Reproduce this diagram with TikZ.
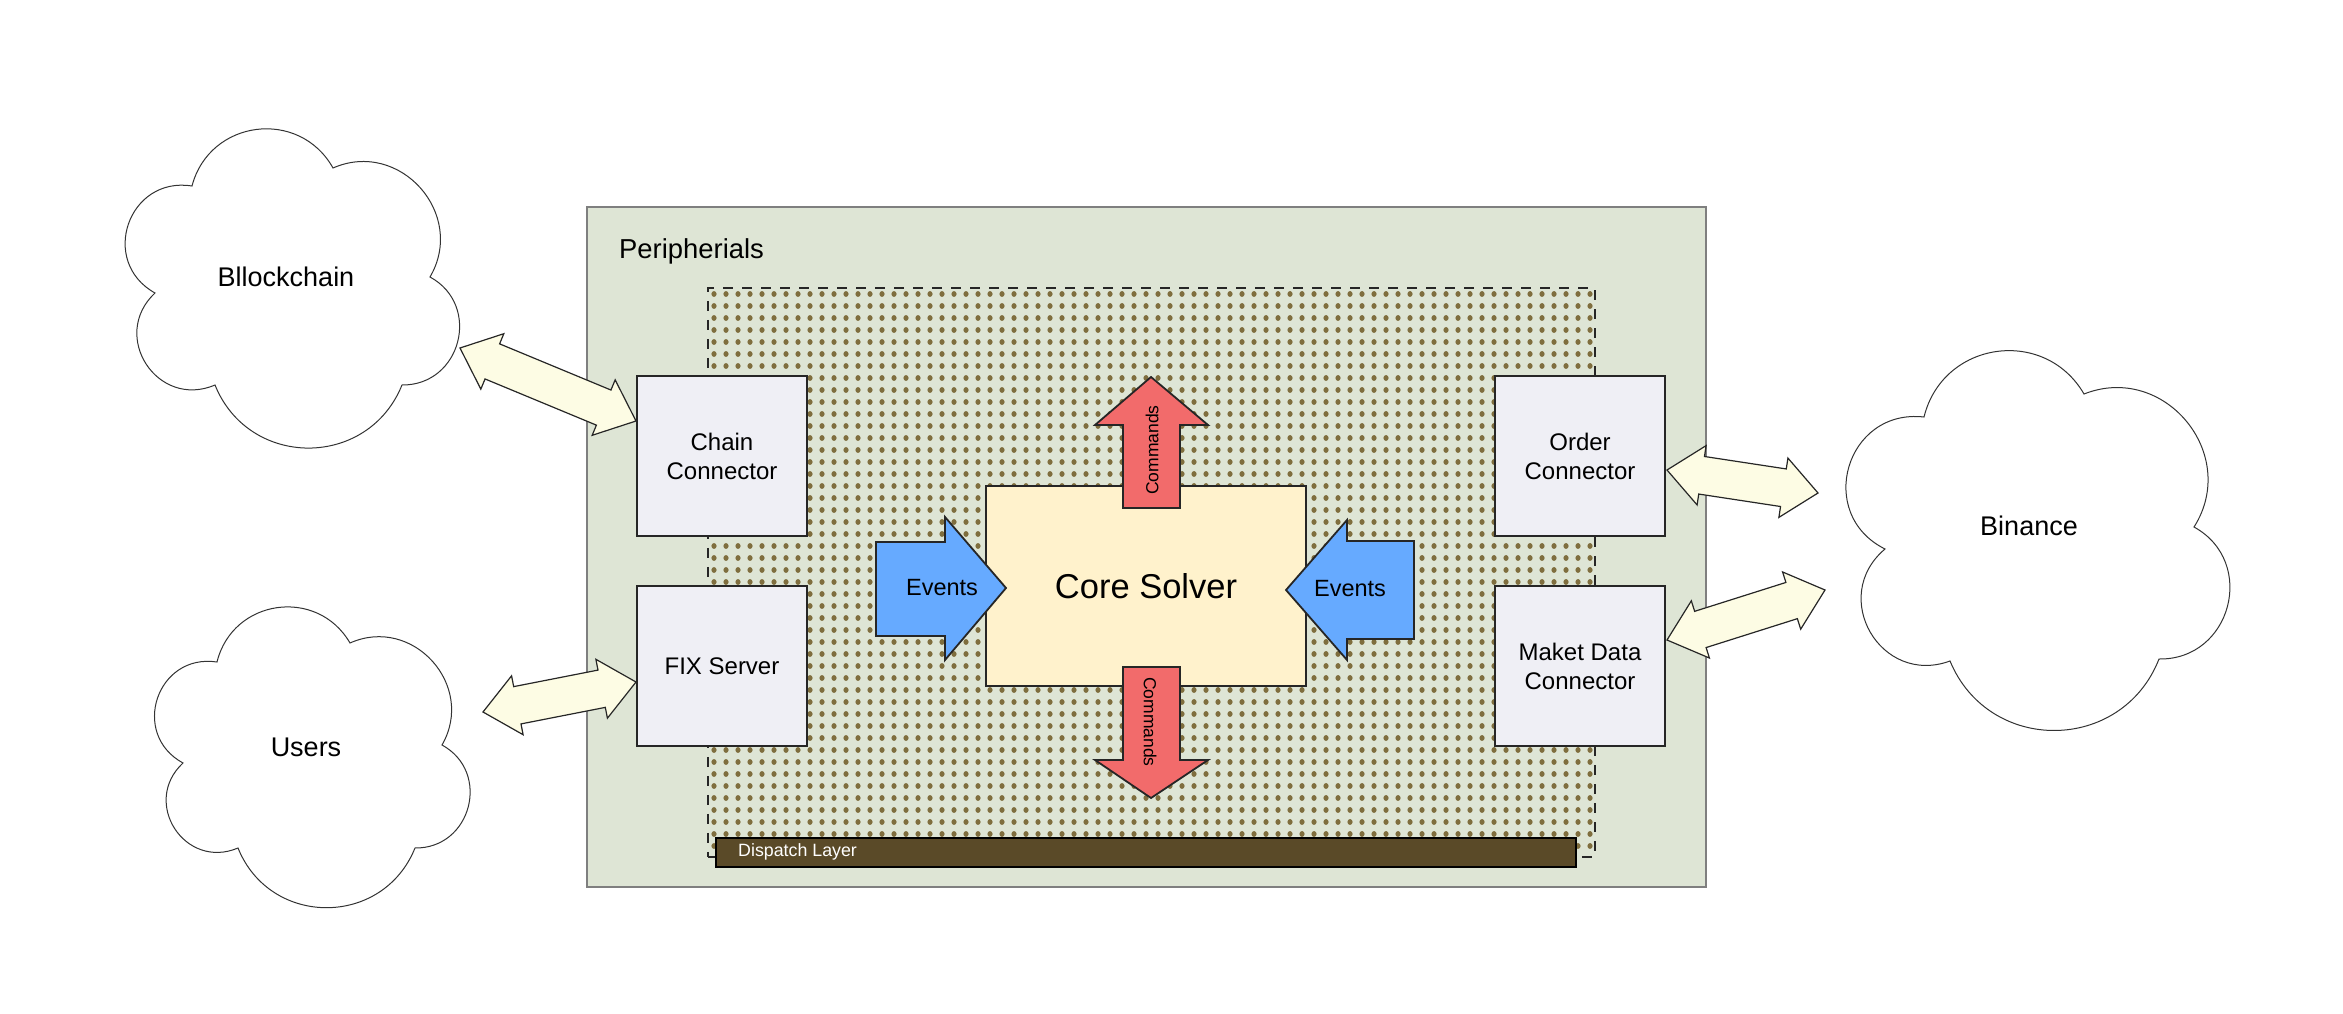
\documentclass[tikz,border=0pt]{standalone}
\usepackage{fontspec}
\setmainfont{Liberation Sans}
\usetikzlibrary{calc}
\definecolor{outerfill}{HTML}{DEE5D5}
\definecolor{outerline}{HTML}{7F7F7F}
\definecolor{boxfill}{HTML}{EFEFF5}
\definecolor{corefill}{HTML}{FFF2CC}
\definecolor{evtblue}{HTML}{66AAFF}
\definecolor{cmdred}{HTML}{F26B6B}
\definecolor{dispfill}{HTML}{5A4A28}
\definecolor{dotcol}{HTML}{7F6E3E}
\definecolor{linkfill}{HTML}{FDFCE4}
\tikzset{
  conbox/.style={draw=black!85, line width=1.8pt, fill=boxfill, minimum width=170pt, minimum height=160pt, align=center, font=\fontsize{24}{29}\selectfont, inner sep=0pt},
  cloudline/.style={draw=black!80, line width=1pt, fill=white},
  cloudtext/.style={font=\fontsize{27}{32}\selectfont, inner sep=0pt},
  link/.style={draw=black!85, line width=1.2pt, fill=linkfill, line join=miter},
  blockarrow/.style={draw=black!85, line width=1.8pt, line join=miter},
  arrowtext/.style={font=\fontsize{23.5}{28}\selectfont, inner sep=0pt},
  cmdtext/.style={font=\fontsize{17.5}{21}\selectfont, inner sep=0pt},
}
\newcommand\fatlink[2]{%
  \coordinate (hA) at ($(#1)!35pt!(#2)$);
  \coordinate (hB) at ($(#2)!35pt!(#1)$);
  \path[link] (#1) -- ($(hA)!30pt!90:(#2)$) -- ($(hA)!19pt!90:(#2)$) -- ($(hB)!19pt!-90:(#1)$) -- ($(hB)!30pt!-90:(#1)$) -- (#2) -- ($(hB)!30pt!90:(#1)$) -- ($(hB)!19pt!90:(#1)$) -- ($(hA)!19pt!-90:(#2)$) -- ($(hA)!30pt!-90:(#2)$) -- cycle;
}
% one puff of a cloud: from #1 to #2, control factor #3, tangent angle #4
\newcommand\puff[4]{.. controls ($(#1)!#3!#4:(#2)$) and ($(#2)!#3!-#4:(#1)$) .. (#2)}
\begin{document}
\begin{tikzpicture}[x=1pt,y=-1pt]
\useasboundingbox (0,0) rectangle (2343,1014);
% outer peripherals box
\node[draw=outerline, line width=2pt, fill=outerfill, minimum width=1119pt, minimum height=680pt, anchor=north west, inner sep=0pt] (periph) at (586,206) {};
\node[anchor=base west, font=\fontsize{27.4}{32}\selectfont, inner sep=0pt] (perlabel) at (619,258) {Peripherials};
% dotted field
\foreach \r in {0,...,46}{
  \draw[dotcol, line width=5.2pt, line cap=round, dash pattern=on 0.01pt off 11.99pt] (714,294+12*\r) -- (1596,294+12*\r);
}
\node[draw=black!85, line width=1.5pt, dash pattern=on 10pt off 9pt, minimum width=887pt, minimum height=569pt, anchor=north west, inner sep=0pt] (field) at (707,287) {};
% dispatch layer
\node[draw=black, line width=1.5pt, fill=dispfill, minimum width=860pt, minimum height=29pt, anchor=north west, inner sep=0pt] (dispatch) at (715,837) {};
\node[anchor=west, text=white, font=\fontsize{17.8}{21}\selectfont, inner sep=0pt] (displabel) at ($(dispatch.west)+(23,0)$) {Dispatch Layer};
% connector boxes
\node[conbox] (chain) at (722,456) {Chain\\Connector};
\node[conbox] (fix) at (722,666) {FIX Server};
\node[conbox] (order) at (1580,456) {Order\\Connector};
\node[conbox] (market) at (1580,666) {Maket Data\\Connector};
% core solver
\node[draw=black!85, line width=1.8pt, fill=corefill, minimum width=320pt, minimum height=200pt, font=\fontsize{34.5}{40}\selectfont, inner sep=0pt] (core) at (1146,586) {Core Solver};
% events arrows
\draw[blockarrow, fill=evtblue] (876,542) -- (945,542) -- (945,517) -- (1006,588) -- (945,660) -- (945,636) -- (876,636) -- cycle;
\node[arrowtext] (evl) at (942,588) {Events};
\draw[blockarrow, fill=evtblue] (1414,541) -- (1347,541) -- (1347,520) -- (1286,590) -- (1347,660) -- (1347,639) -- (1414,639) -- cycle;
\node[arrowtext] (evr) at (1350,589) {Events};
% commands arrows
\draw[blockarrow, fill=cmdred] (1123,508) -- (1123,425) -- (1095,425) -- (1151,377) -- (1208,425) -- (1180,425) -- (1180,508) -- cycle;
\node[cmdtext, rotate=90] (cmdu) at (1152,450) {Commands};
\draw[blockarrow, fill=cmdred] (1123,667) -- (1123,760) -- (1095,760) -- (1151,798) -- (1208,760) -- (1180,760) -- (1180,667) -- cycle;
\node[cmdtext, rotate=-90] (cmdd) at (1150,722) {Commands};
% clouds
\coordinate (b1) at (192,186); \coordinate (b2) at (333,168); \coordinate (b3) at (430,277);
\coordinate (b4) at (402,385); \coordinate (b5) at (215,385); \coordinate (b6) at (155,293);
\path[cloudline] (b1) \puff{b1}{b2}{0.485}{68} \puff{b2}{b3}{0.5}{72} \puff{b3}{b4}{0.53}{76}
  \puff{b4}{b5}{0.485}{68} \puff{b5}{b6}{0.57}{80} \puff{b6}{b1}{0.57}{80} -- cycle;
\node[cloudtext] (blockchain) at (286,277) {Bllockchain};
\coordinate (u1) at (217,662); \coordinate (u2) at (350,643); \coordinate (u3) at (442,745);
\coordinate (u4) at (415,848); \coordinate (u5) at (238,848); \coordinate (u6) at (183,763);
\path[cloudline] (u1) \puff{u1}{u2}{0.485}{68} \puff{u2}{u3}{0.5}{72} \puff{u3}{u4}{0.53}{76}
  \puff{u4}{u5}{0.485}{68} \puff{u5}{u6}{0.57}{80} \puff{u6}{u1}{0.57}{80} -- cycle;
\node[cloudtext] (users) at (306,747) {Users};
\coordinate (n1) at (1924,417); \coordinate (n2) at (2084,394); \coordinate (n3) at (2194,527);
\coordinate (n4) at (2159,659); \coordinate (n5) at (1950,661); \coordinate (n6) at (1885,549);
\path[cloudline] (n1) \puff{n1}{n2}{0.485}{68} \puff{n2}{n3}{0.5}{72} \puff{n3}{n4}{0.53}{76}
  \puff{n4}{n5}{0.485}{68} \puff{n5}{n6}{0.57}{80} \puff{n6}{n1}{0.57}{80} -- cycle;
\node[cloudtext] (binance) at (2029,526) {Binance};
% link arrows
\coordinate (bcE) at (460,348);
\coordinate (chW) at (636,421);
\coordinate (usE) at (483,712);
\coordinate (fxW) at (636,682);
\coordinate (orE) at (1667,470);
\coordinate (bnA) at (1818,493);
\coordinate (mkE) at (1667,640);
\coordinate (bnB) at (1825,590);
\fatlink{bcE}{chW}
\fatlink{usE}{fxW}
\fatlink{orE}{bnA}
\fatlink{mkE}{bnB}
\end{tikzpicture}
\end{document}
